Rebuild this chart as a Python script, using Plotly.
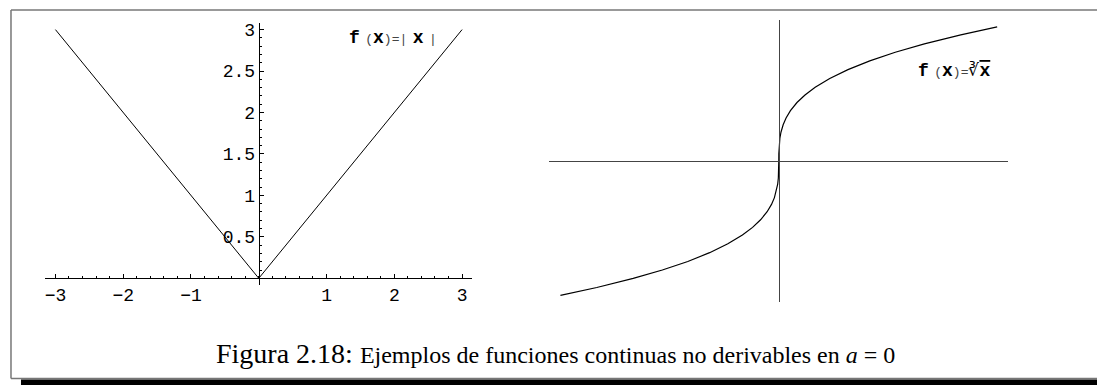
import numpy as np
import plotly.graph_objects as go

W, H = 1097, 385

# ---- left panel: f(x) = |x| ----
abs_x = [-3.0, 0.0, 3.0]
abs_y = [3.0, 0.0, 3.0]
x_major = [-3, -2, -1, 1, 2, 3]
x_major_text = ["\u22123", "\u22122", "\u22121", "1", "2", "3"]
y_major = [0.5, 1, 1.5, 2, 2.5, 3]
y_major_text = ["0.5", "1", "1.5", "2", "2.5", "3"]

# ---- right panel: f(x) = cube root of x ----
cbrt_x_pos = [0.0005, 0.002, 0.006, 0.015, 0.03, 0.06, 0.1, 0.16, 0.25, 0.36,
              0.5, 0.7, 0.95, 1.25, 1.6, 2.0, 2.5, 3.0]
cbrt_x = [-v for v in reversed(cbrt_x_pos)] + [0.0] + cbrt_x_pos
cbrt_y = list(np.cbrt(np.array(cbrt_x)))

# ---- caption ----
caption_head = "Figura 2.18:"
caption_body = "Ejemplos de funciones continuas no derivables en <i>a</i> = 0"

# pixel layout helpers
def px_x(p):
    return p / W

def px_y(p):
    return (H - p) / H

L_xr = [-3.15, 3.15]
L_yr = [-0.075, 3.075]
L_xd = [px_x(44.3), px_x(471.7)]
L_yd = [px_y(284.0), px_y(21.5)]

R_lim = 3.0
R_ylim = float(np.cbrt(R_lim))
R_xr = [-1.05 * R_lim, 1.05 * R_lim]
R_yr = [-1.05 * R_ylim, 1.05 * R_ylim]
R_xd = [px_x(549.0), px_x(1008.0)]
R_yd = [px_y(301.7), px_y(18.3)]


def origin_pos(rng, dom):
    return dom[0] + (0 - rng[0]) / (rng[1] - rng[0]) * (dom[1] - dom[0])


mono = "Liberation Mono"
fig = go.Figure()

fig.add_trace(go.Scatter(x=abs_x, y=abs_y, mode="lines",
                         line=dict(color="black", width=1),
                         xaxis="x", yaxis="y", showlegend=False, hoverinfo="skip"))
fig.add_trace(go.Scatter(x=cbrt_x, y=cbrt_y, mode="lines",
                         line=dict(color="black", width=1.2),
                         xaxis="x2", yaxis="y2", showlegend=False, hoverinfo="skip"))

tick_font = dict(family=mono, size=18, color="black")

fig.update_layout(
    width=W, height=H,
    margin=dict(l=0, r=0, t=0, b=0),
    paper_bgcolor="white", plot_bgcolor="rgba(0,0,0,0)",
    xaxis=dict(
        domain=L_xd, range=L_xr, anchor="free",
        position=origin_pos(L_yr, L_yd),
        showgrid=False, zeroline=False,
        showline=True, linecolor="black", linewidth=1,
        tickmode="array", tickvals=x_major, ticktext=x_major_text,
        ticks="inside", ticklen=4, tickcolor="black", tickwidth=1,
        tickfont=tick_font, ticklabelstandoff=0,
        minor=dict(tickmode="array",
                   tickvals=[round(v, 1) for v in np.arange(-3.0, 3.01, 0.2)],
                   ticks="inside", ticklen=2, tickcolor="black", tickwidth=1),
    ),
    yaxis=dict(
        domain=L_yd, range=L_yr, anchor="free",
        position=origin_pos(L_xr, L_xd),
        showgrid=False, zeroline=False,
        showline=True, linecolor="black", linewidth=1,
        tickmode="array", tickvals=y_major, ticktext=y_major_text,
        ticks="inside", ticklen=4, tickcolor="black", tickwidth=1,
        tickfont=tick_font,
        minor=dict(tickmode="array",
                   tickvals=[round(v, 1) for v in np.arange(0.1, 3.01, 0.1)],
                   ticks="inside", ticklen=2, tickcolor="black", tickwidth=1),
    ),
    xaxis2=dict(
        domain=R_xd, range=R_xr, anchor="free",
        position=origin_pos(R_yr, R_yd),
        showgrid=False, zeroline=False, showticklabels=False, ticks="",
        showline=True, linecolor="#444", linewidth=1,
    ),
    yaxis2=dict(
        domain=R_yd, range=R_yr, anchor="free",
        position=origin_pos(R_xr, R_xd),
        showgrid=False, zeroline=False, showticklabels=False, ticks="",
        showline=True, linecolor="#444", linewidth=1,
    ),
)

gap = "<span style='font-size:9px'> </span>"
small = "<span style='font-size:13px;color:#444'>"
left_label = ("<b>f</b>" + gap + small + "(</span><b>x</b>" + small + ")=|</span>"
              + gap + "<b>x</b>" + gap + small + "|</span>")
right_label = ("<b>f</b>" + gap + small + "(</span><b>x</b>" + small + ")=</span>"
               "<span style='font-size:17px'>\u221b</span>"
               "<b><span style='text-decoration:overline'>x</span></b>")

fig.add_annotation(text=left_label, x=1.3, y=2.9, xref="x", yref="y",
                   xanchor="left", yanchor="middle", showarrow=False,
                   font=dict(family=mono, size=18, color="black"))
fig.add_annotation(text=right_label, x=1.88, y=0.97, xref="x2", yref="y2",
                   xanchor="left", yanchor="middle", showarrow=False,
                   font=dict(family=mono, size=18, color="black"))

fig.add_annotation(
    text=caption_head + " <span style='font-size:24px'>" + caption_body + "</span>",
    x=px_x(213), y=px_y(353), xref="paper", yref="paper",
    xanchor="left", yanchor="middle", showarrow=False,
    font=dict(family="Liberation Serif", size=28, color="black"))

# page frame (top, left, bottom edges) and its shadow bar
frame = dict(color="#777", width=1.5)
fig.add_shape(type="line", xref="paper", yref="paper",
              x0=px_x(10), x1=1.0, y0=px_y(8), y1=px_y(8), line=frame)
fig.add_shape(type="line", xref="paper", yref="paper",
              x0=px_x(10), x1=px_x(10), y0=px_y(8), y1=px_y(378.5), line=frame)
fig.add_shape(type="line", xref="paper", yref="paper",
              x0=px_x(10), x1=1.0, y0=px_y(378.5), y1=px_y(378.5), line=frame)
fig.add_shape(type="rect", xref="paper", yref="paper",
              x0=px_x(20), x1=1.0, y0=0.0, y1=px_y(379.5),
              line=dict(width=0), fillcolor="black")

fig.write_html("out.html")
